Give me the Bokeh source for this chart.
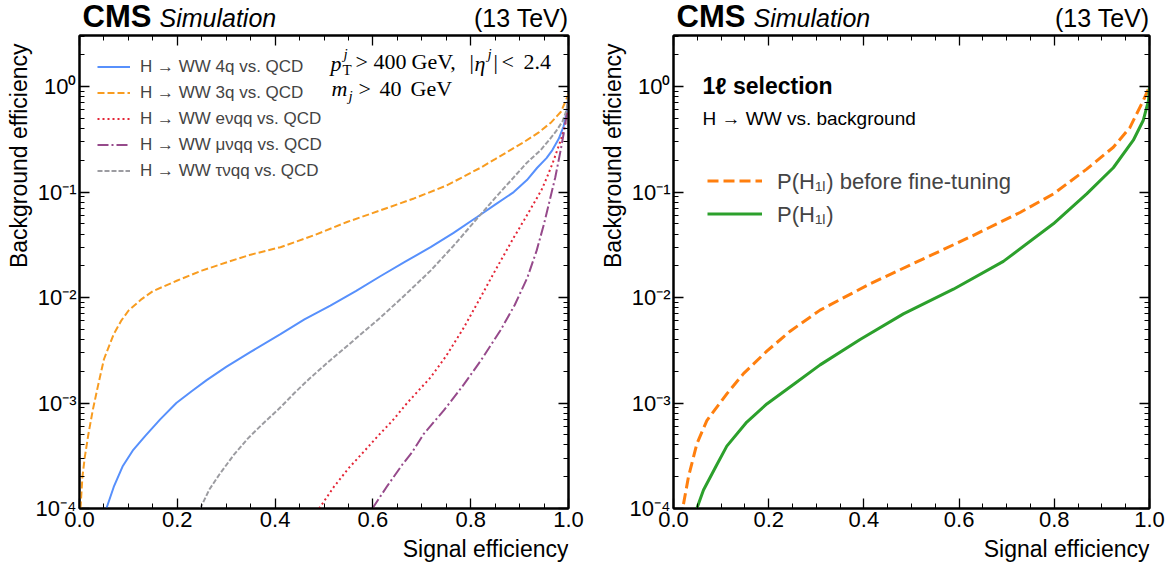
import math
from bokeh.plotting import figure
from bokeh.models import (Range1d, LinearAxis, LogAxis, FixedTicker, CustomJSTickFormatter,
                          Label, Legend, LegendItem, Title)
from bokeh.layouts import row, column
from bokeh.embed import file_html
from bokeh.resources import INLINE

SANS = "Liberation Sans"
SERIF = "Liberation Serif"

# ---------------- data: left panel (ROC curves vs. QCD) ----------------
x_4q = [0.055, 0.07, 0.088, 0.11, 0.135, 0.165, 0.198, 0.23, 0.26, 0.3, 0.35, 0.411, 0.46, 0.513,
        0.565, 0.616, 0.667, 0.718, 0.765, 0.813, 0.85, 0.888, 0.915, 0.936, 0.955, 0.967, 0.98,
        0.99, 0.997, 1.0]
y_4q = [1e-4, 1.6e-4, 2.5e-4, 3.6e-4, 4.9e-4, 7e-4, 1.0e-3, 1.3e-3, 1.65e-3, 2.2e-3, 3.05e-3,
        4.5e-3, 6.2e-3, 8.4e-3, 1.15e-2, 1.6e-2, 2.2e-2, 3.0e-2, 4.1e-2, 5.8e-2, 7.6e-2, 0.10,
        0.13, 0.17, 0.21, 0.25, 0.32, 0.42, 0.6, 0.85]

x_3q = [0.002, 0.006, 0.011, 0.018, 0.027, 0.037, 0.05, 0.07, 0.085, 0.1, 0.125, 0.15, 0.2,
        0.25, 0.3, 0.35, 0.411, 0.48, 0.547, 0.615, 0.684, 0.75, 0.82, 0.85, 0.881, 0.91, 0.94,
        0.965, 0.985, 1.0]
y_3q = [1e-4, 2e-4, 3.1e-4, 5e-4, 8.5e-4, 1.4e-3, 2.6e-3, 4.5e-3, 6.0e-3, 7.5e-3, 9.5e-3,
        1.15e-2, 1.45e-2, 1.8e-2, 2.15e-2, 2.55e-2, 3.0e-2, 3.9e-2, 5.2e-2, 6.7e-2, 8.7e-2, 0.115,
        0.17, 0.205, 0.25, 0.3, 0.37, 0.46, 0.58, 0.85]

x_evqq = [0.49, 0.52, 0.55, 0.58, 0.609, 0.64, 0.67, 0.718, 0.75, 0.785, 0.82, 0.85, 0.888, 0.91,
          0.929, 0.945, 0.956, 0.968, 0.977, 0.988, 0.996, 1.0]
y_evqq = [1e-4, 1.6e-4, 2.4e-4, 3.4e-4, 4.8e-4, 6.8e-4, 1.0e-3, 1.75e-3, 2.8e-3, 5.1e-3, 1e-2,
          1.8e-2, 3.7e-2, 5.5e-2, 7.8e-2, 0.105, 0.138, 0.19, 0.25, 0.35, 0.5, 0.75]

x_muvqq = [0.599, 0.63, 0.66, 0.68, 0.704, 0.745, 0.786, 0.82, 0.861, 0.89, 0.916, 0.935, 0.95,
           0.962, 0.973, 0.984, 0.992, 1.0]
y_muvqq = [1e-4, 1.65e-4, 2.6e-4, 3.4e-4, 5.1e-4, 8.5e-4, 1.5e-3, 2.5e-3, 4.9e-3, 8.5e-3, 1.55e-2,
           2.8e-2, 5e-2, 8.5e-2, 0.138, 0.25, 0.4, 0.7]

x_tauvqq = [0.247, 0.265, 0.286, 0.315, 0.344, 0.374, 0.411, 0.44, 0.47, 0.513, 0.56, 0.616, 0.665,
            0.718, 0.765, 0.813, 0.85, 0.888, 0.915, 0.943, 0.96, 0.975, 0.988, 0.996, 1.0]
y_tauvqq = [1e-4, 1.5e-4, 2.1e-4, 3.2e-4, 4.6e-4, 6.3e-4, 9.1e-4, 1.25e-3, 1.7e-3, 2.55e-3,
            3.9e-3, 6.5e-3, 1.05e-2, 1.8e-2, 3.1e-2, 5.6e-2, 8.8e-2, 0.138, 0.19, 0.25, 0.31, 0.38,
            0.47, 0.6, 0.8]

left_labels = ["H \u2192 WW 4q vs. QCD", "H \u2192 WW 3q vs. QCD", "H \u2192 WW e\u03bdqq vs. QCD",
               "H \u2192 WW \u03bc\u03bdqq vs. QCD", "H \u2192 WW \u03c4\u03bdqq vs. QCD"]

# ---------------- data: right panel (1-lepton selection) ----------------
x_before = [0.021, 0.0315, 0.049, 0.07, 0.0875, 0.112, 0.147, 0.196, 0.245, 0.308, 0.413, 0.518,
            0.623, 0.728, 0.798, 0.868, 0.924, 0.959, 0.987, 1.0]
y_before = [1.1e-4, 2.0e-4, 4.1e-4, 6.8e-4, 8.7e-4, 1.22e-3, 1.9e-3, 3.1e-3, 4.8e-3, 7.6e-3,
            1.35e-2, 2.25e-2, 3.75e-2, 6.4e-2, 9.6e-2, 0.165, 0.266, 0.41, 0.74, 1.0]

x_final = [0.049, 0.063, 0.091, 0.112, 0.154, 0.196, 0.252, 0.308, 0.392, 0.483, 0.588, 0.693,
           0.798, 0.868, 0.924, 0.966, 0.987, 0.998, 1.0]
y_final = [1e-4, 1.5e-4, 2.6e-4, 3.9e-4, 6.6e-4, 9.8e-4, 1.5e-3, 2.3e-3, 4.0e-3, 7.0e-3, 1.2e-2,
           2.2e-2, 5.0e-2, 9.6e-2, 0.17, 0.31, 0.48, 0.74, 1.0]

right_labels = ["P(H\u2081\u2097) before fine-tuning", "P(H\u2081\u2097)"]

x_major = [0.0, 0.2, 0.4, 0.6, 0.8, 1.0]
x_minor = [round(i * 0.05, 2) for i in range(21)]
y_major = [1e-4, 1e-3, 1e-2, 1e-1, 1.0]
y_minor = [k * 10.0 ** e for e in range(-4, 1) for k in range(2, 10)]

SUP_JS = """
const e = Math.round(Math.log10(tick));
const m = {"-":"\u207b","0":"\u2070","1":"\u00b9","2":"\u00b2","3":"\u00b3","4":"\u2074",
           "5":"\u2075","6":"\u2076","7":"\u2077","8":"\u2078","9":"\u2079"};
return "10" + String(e).split("").map(c => m[c]).join("");
"""

HEAD_H, FRAME_H, AX_H = 33, 473, 28
FOOT_H = 568 - HEAD_H - 2 - FRAME_H - AX_H


def style_axis(ax, labels=True):
    ax.axis_line_color = "black"
    ax.axis_line_width = 2
    ax.major_tick_line_color = "black"
    ax.major_tick_line_width = 1.3
    ax.major_tick_in = 10
    ax.major_tick_out = 0
    ax.minor_tick_line_color = "black"
    ax.minor_tick_line_width = 1.0
    ax.minor_tick_in = 5
    ax.minor_tick_out = 0
    ax.major_label_text_font = SANS
    ax.major_label_text_color = "black"
    if labels:
        ax.major_label_text_font_size = "22px"
        ax.major_label_standoff = 3
    else:
        ax.major_label_text_font_size = "0px"
        ax.major_label_standoff = 0


def make_fig(width, bl, br):
    p = figure(width=width, height=2 + FRAME_H + AX_H, x_range=Range1d(0, 1),
               y_range=Range1d(1e-4, 3.05), y_axis_type="log", output_backend="svg",
               toolbar_location=None, min_border_left=bl, min_border_right=br, min_border_top=2,
               min_border_bottom=AX_H)
    p.xgrid.visible = False
    p.ygrid.visible = False
    p.outline_line_color = "black"
    p.outline_line_width = 2
    p.background_fill_color = "white"
    p.border_fill_color = "white"
    p.xaxis.ticker = FixedTicker(ticks=x_major, minor_ticks=x_minor)
    p.xaxis.formatter = CustomJSTickFormatter(code="return tick.toFixed(1);")
    p.yaxis.ticker = FixedTicker(ticks=y_major, minor_ticks=y_minor)
    p.yaxis.formatter = CustomJSTickFormatter(code=SUP_JS)
    for ax in p.xaxis + p.yaxis:
        style_axis(ax)
    top = LinearAxis(ticker=FixedTicker(ticks=x_major, minor_ticks=x_minor),
                     formatter=CustomJSTickFormatter(code="return '';"))
    right = LogAxis(ticker=FixedTicker(ticks=y_major, minor_ticks=y_minor),
                    formatter=CustomJSTickFormatter(code="return '';"))
    style_axis(top, False)
    style_axis(right, False)
    p.add_layout(top, "above")
    p.add_layout(right, "right")
    p.add_layout(Title(text="Background efficiency", align="right", text_font=SANS,
                       text_font_size="23px", text_font_style="normal", text_color="black",
                       standoff=2, offset=8), "left")
    return p


def strip(width, height):
    s = figure(width=width, height=height, x_range=Range1d(0, 1), y_range=Range1d(0, 1),
               x_axis_location=None, y_axis_location=None, output_backend="svg",
               toolbar_location=None, min_border=0, min_border_left=0, min_border_right=0,
               min_border_top=0, min_border_bottom=0)
    s.xgrid.visible = False
    s.ygrid.visible = False
    s.outline_line_color = None
    s.background_fill_color = "white"
    s.border_fill_color = "white"
    return s


def txt(p, s, x, y, size, font=SANS, style="normal", align="left"):
    # y is the visual middle of the text, in px above the frame bottom
    p.add_layout(Label(x=x, y=y, x_units="screen", y_units="screen", text=s, text_font=font,
                       text_font_size=f"{size}px", text_font_style=style, text_align=align,
                       text_baseline="middle", text_color="black"))


def header(width, fw):
    h = strip(width, HEAD_H)
    txt(h, "CMS", 3, 17, 31, style="bold")
    txt(h, "Simulation", 80, 16, 25, style="italic")
    txt(h, "(13 TeV)", fw, 16, 25, align="right")
    return h


def footer(width, fw):
    f = strip(width, FOOT_H)
    txt(f, "Signal efficiency", fw, FOOT_H - 12, 23, align="right")
    return f


# ---------------- left panel ----------------
W1, FW1 = 590, 489
p1 = make_fig(W1, 79, W1 - 79 - FW1)
series = [(x_4q, y_4q, "#5790fc", "solid"), (x_3q, y_3q, "#f89c20", "7 3"),
          (x_evqq, y_evqq, "#e42536", "2 3"), (x_muvqq, y_muvqq, "#964a8b", "11 3 2 3"),
          (x_tauvqq, y_tauvqq, "#9c9ca1", "5 2")]
items = []
for (xs, ys, c, d), lab in zip(series, left_labels):
    r = p1.line(xs, ys, line_color=c, line_width=2, line_dash=d)
    items.append(LegendItem(label=lab, renderers=[r]))
leg1 = Legend(items=items, location=(18, 326), border_line_color=None, background_fill_alpha=0,
              label_text_font=SANS, label_text_font_size="17px", glyph_width=33, glyph_height=23,
              label_height=23, spacing=3, padding=0, margin=0, label_standoff=10)
p1.add_layout(leg1)

# kinematic selection text (inside the frame)
L1, L2 = 447, 420
txt(p1, "p", 251, L1 - 2, 22, font=SERIF, style="italic")
txt(p1, "T", 263, L1 - 8, 15, font=SERIF)
txt(p1, "j", 264, L1 + 8, 15, font=SERIF, style="italic")
txt(p1, ">", 276, L1, 22, font=SERIF)
txt(p1, "400", 294, L1, 22, font=SERIF)
txt(p1, "GeV,", 332, L1, 22, font=SERIF)
txt(p1, "|", 390, L1, 22, font=SERIF)
txt(p1, "\u03b7", 395, L1 - 2, 22, font=SERIF, style="italic")
txt(p1, "j", 408, L1 + 8, 15, font=SERIF, style="italic")
txt(p1, "|", 414, L1, 22, font=SERIF)
txt(p1, "<", 422, L1, 22, font=SERIF)
txt(p1, "2.4", 444, L1, 22, font=SERIF)
txt(p1, "m", 252, L2, 22, font=SERIF, style="italic")
txt(p1, "j", 269, L2 - 7, 15, font=SERIF, style="italic")
txt(p1, ">", 279, L2, 22, font=SERIF)
txt(p1, "40", 300, L2, 22, font=SERIF)
txt(p1, "GeV", 331, L2, 22, font=SERIF)

h1 = header(W1, FW1)
f1 = footer(W1, FW1)

# ---------------- right panel ----------------
W2, FW2 = 1174 - 590, 476
p2 = make_fig(W2, 83, W2 - 83 - FW2)
txt(p2, "1\u2113 selection", 29, 423, 23, style="bold")
txt(p2, "H \u2192 WW  vs. background", 29, 390, 19)

r_b = p2.line(x_before, y_before, line_color="#ff7f0e", line_width=3, line_dash="11 5")
r_f = p2.line(x_final, y_final, line_color="#2ca02c", line_width=3)
leg2 = Legend(items=[LegendItem(label=right_labels[0], renderers=[r_b]),
                     LegendItem(label=right_labels[1], renderers=[r_f])],
              location=(34, 280), border_line_color=None, background_fill_alpha=0,
              label_text_font=SANS, label_text_font_size="22px", glyph_width=55, glyph_height=29,
              label_height=29, spacing=3, padding=0, margin=0, label_standoff=15)
p2.add_layout(leg2)

h2 = header(W2, FW2)
f2 = footer(W2, FW2)

layout = row(column(h1, p1, f1), column(h2, p2, f2))
open("out.html", "w").write(file_html(layout, INLINE))
